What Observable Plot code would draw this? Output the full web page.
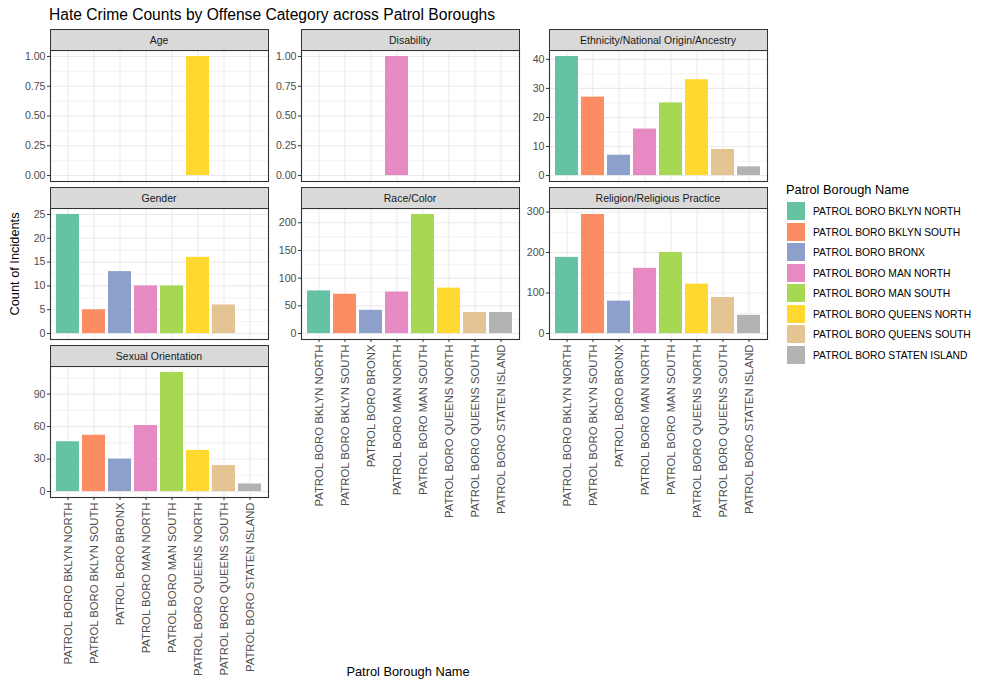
<!DOCTYPE html>
<html><head><meta charset="utf-8">
<script src="https://cdn.jsdelivr.net/npm/d3@7"></script>
<script src="https://cdn.jsdelivr.net/npm/@observablehq/plot@0.6"></script>
<style>
body{margin:0;background:#fff;}
#chart{position:relative;width:984px;height:684px;font-family:"Liberation Sans",Arial,sans-serif;background:#fff;overflow:hidden;color:#000}
.strip{position:absolute;background:#D9D9D9;border:1px solid #333;box-sizing:border-box;font-size:10.5px;color:#1A1A1A;display:flex;align-items:center;justify-content:center;white-space:nowrap}
.txt{position:absolute;white-space:nowrap}
</style></head><body><div id="chart"></div>
<script>
// ---- data ----
const boroughs = ["PATROL BORO BKLYN NORTH","PATROL BORO BKLYN SOUTH","PATROL BORO BRONX","PATROL BORO MAN NORTH","PATROL BORO MAN SOUTH","PATROL BORO QUEENS NORTH","PATROL BORO QUEENS SOUTH","PATROL BORO STATEN ISLAND"];
const categories = ["Age","Disability","Ethnicity/National Origin/Ancestry","Gender","Race/Color","Religion/Religious Practice","Sexual Orientation"];
const ageCounts        = [null, null, null, null, null, 1, null, null];
const disabilityCounts = [null, null, null, 1, null, null, null, null];
const ethnicityCounts  = [41, 27, 7, 16, 25, 33, 9, 3];
const genderCounts     = [25, 5, 13, 10, 10, 16, 6, null];
const raceCounts       = [77, 71, 42, 75, 215, 82, 38, 38];
const religionCounts   = [188, 294, 80, 161, 200, 122, 89, 45];
const sexualCounts     = [46, 52, 30, 61, 110, 38, 24, 7];
const ageTicks = [0, 0.25, 0.5, 0.75, 1];
const disabilityTicks = [0, 0.25, 0.5, 0.75, 1];
const ethnicityTicks = [0, 10, 20, 30, 40];
const genderTicks = [0, 5, 10, 15, 20, 25];
const raceTicks = [0, 50, 100, 150, 200];
const religionTicks = [0, 100, 200, 300];
const sexualTicks = [0, 30, 60, 90];
const palette = d3.schemeSet2;

const panels = [
  {name: categories[0], values: ageCounts, ticks: ageTicks, fmt: d3.format(".2f")},
  {name: categories[1], values: disabilityCounts, ticks: disabilityTicks, fmt: d3.format(".2f")},
  {name: categories[2], values: ethnicityCounts, ticks: ethnicityTicks, fmt: d3.format("d")},
  {name: categories[3], values: genderCounts, ticks: genderTicks, fmt: d3.format("d")},
  {name: categories[4], values: raceCounts, ticks: raceTicks, fmt: d3.format("d"), bottom: true},
  {name: categories[5], values: religionCounts, ticks: religionTicks, fmt: d3.format("d"), bottom: true},
  {name: categories[6], values: sexualCounts, ticks: sexualTicks, fmt: d3.format("d"), bottom: true}
];

// ---- layout ----
const chart = document.getElementById("chart");
const colX = [50, 301, 549];
const stripTop = [29, 187, 345];
const PW = 218, PH = 131, SH = 22;
const FONT = "Liberation Sans, Arial, sans-serif";

function addText(str, css) {
  const d = document.createElement("div");
  d.className = "txt";
  d.textContent = str;
  Object.assign(d.style, css);
  chart.appendChild(d);
  return d;
}

addText("Hate Crime Counts by Offense Category across Patrol Boroughs", {left: "49px", top: "5px", fontSize: "15.6px", lineHeight: "20px"});

panels.forEach((p, k) => {
  const col = k % 3, row = Math.floor(k / 3);
  const data = boroughs.map((b, i) => ({borough: b, count: p.values[i]})).filter(d => d.count != null);
  const max = d3.max(data, d => d.count);
  const domain = [-0.05 * max, 1.05 * max];
  const step = p.ticks[1] - p.ticks[0];
  const minor = [p.ticks[0] - step / 2, ...p.ticks.map(t => t + step / 2)].filter(v => v > domain[0] && v < domain[1]);
  const mL = 40, mR = 1, mT = 1, mB = p.bottom ? 180 : 1;
  const top = stripTop[row] + SH - 1;
  const svg = Plot.plot({
    width: PW + mL + mR, height: PH + mT + mB,
    marginLeft: mL, marginRight: mR, marginTop: mT, marginBottom: mB,
    x: {type: "band", domain: boroughs, paddingInner: 0.1, paddingOuter: 0.15, axis: null, label: null},
    y: {domain, axis: null, label: null},
    color: {domain: boroughs, range: palette},
    style: {fontFamily: FONT, fontSize: "10.6px", background: "transparent", overflow: "visible"},
    marks: [
      Plot.ruleY(minor, {y: d => d, stroke: "#EBEBEB", strokeWidth: 0.6}),
      Plot.ruleY(p.ticks, {y: d => d, stroke: "#EBEBEB", strokeWidth: 1.1}),
      Plot.ruleX(boroughs, {x: d => d, stroke: "#EBEBEB", strokeWidth: 1.1}),
      Plot.barY(data, {x: "borough", y: "count", fill: "borough"}),
      Plot.frame({stroke: "#333333", strokeWidth: 1.1}),
      Plot.axisY(p.ticks, {tickSize: 3, tickPadding: 2, tickFormat: p.fmt, stroke: "#333333", fill: "#4D4D4D", fontSize: 10.6, label: null}),
      p.bottom ? Plot.axisX({tickSize: 3, tickPadding: 2, tickRotate: -90, stroke: "#333333", fill: "#4D4D4D", fontSize: 11.3, label: null}) : null
    ]
  });
  svg.style.position = "absolute";
  svg.style.left = (colX[col] - mL) + "px";
  svg.style.top = (top - mT) + "px";
  chart.appendChild(svg);
  const s = document.createElement("div");
  s.className = "strip";
  s.textContent = p.name;
  Object.assign(s.style, {left: (colX[col] - 0.5) + "px", top: stripTop[row] + "px", width: (PW + 1) + "px", height: SH + "px"});
  chart.appendChild(s);
});

// axis titles
addText("Count of Incidents", {left: "14px", top: "264px", fontSize: "12.8px", transform: "translate(-50%,-50%) rotate(-90deg)"});
addText("Patrol Borough Name", {left: "408px", top: "671px", fontSize: "12.8px", transform: "translate(-50%,-50%)"});

// legend
addText("Patrol Borough Name", {left: "786px", top: "189px", fontSize: "12.8px", transform: "translateY(-50%)"});
boroughs.forEach((b, i) => {
  const y = 202 + i * 20.57;
  const sw = document.createElement("div");
  Object.assign(sw.style, {position: "absolute", left: "787px", top: y + "px", width: "18px", height: "18px", background: palette[i]});
  chart.appendChild(sw);
  addText(b, {left: "813px", top: (y + 9) + "px", fontSize: "10.3px", color: "#000", transform: "translateY(-50%)"});
});
</script></body></html>
